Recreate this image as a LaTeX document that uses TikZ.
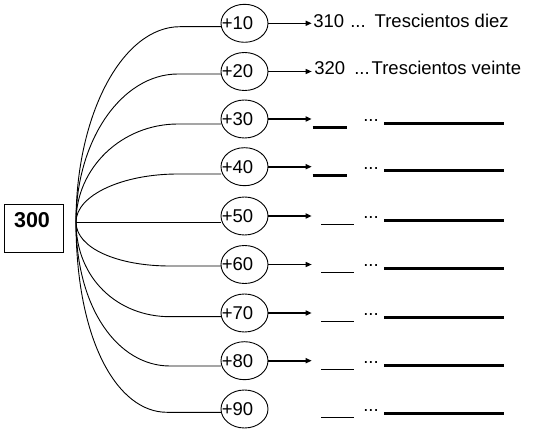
\documentclass[tikz,border=0pt]{standalone}
\usepackage{fontspec}
\setmainfont{Liberation Sans}
\usetikzlibrary{shapes.geometric,arrows.meta}
\begin{document}
\begin{tikzpicture}[x=1pt,y=1pt,
  ell/.style={draw,ellipse,minimum width=47pt,minimum height=38pt,inner sep=0pt,outer sep=0pt,line width=0.9pt},
  numbox/.style={draw,rectangle,minimum width=58.3pt,minimum height=48pt,inner sep=0pt,outer sep=0pt,line width=0.9pt},
  curve/.style={line width=0.9pt},
  arr/.style={-{Triangle[length=6pt,width=5pt]},line width=1.3pt},
  arrb/.style={arr,line width=2.1pt},
  longline/.style={line width=3pt},
  shortthick/.style={line width=2.7pt},
  shortthin/.style={line width=1pt},
  lbl/.style={font=\fontsize{18.5}{22}\selectfont},
  ]
\useasboundingbox (0,0) rectangle (535,431);

% start box
\node[numbox,label={[lbl,font=\fontsize{21.5}{24}\selectfont\bfseries,xshift=-1.85pt,yshift=7.5pt]center:300}] (b) at (33.85,203) {};

% ellipses
\foreach \k/\y/\t in {1/407.7/+10,2/359.5/+20,3/312/+30,4/264.3/+40,5/215/+50,6/166.5/+60,7/118/+70,8/70.3/+80,9/22/+90}{
  \node[ell,label={[lbl,inner sep=0pt,xshift=-7pt]center:\t}] (e\k) at (244.5,\y) {};
}

% fan of curves
\coordinate (o) at (76,209);
\coordinate (k1) at (180,404.3);
\coordinate (k2) at (178,357);
\coordinate (k3) at (178,307);
\coordinate (k4) at (178,257);
\coordinate (k6) at (170,165);
\coordinate (k7) at (170,114.3);
\coordinate (k8) at (170,65);
\coordinate (k9) at (167,18.7);
\draw[curve] (o) to[out=90,in=180,out distance=107.9pt,in distance=57.4pt] (k1) -- (e1.west |- k1);
\draw[curve] (o) to[out=90,in=180,out distance=81.7pt,in distance=56.3pt] (k2) -- (e2.west |- k2);
\draw[curve] (o) to[out=90,in=180,out distance=54.1pt,in distance=56.3pt] (k3) -- (e3.west |- k3);
\draw[curve] (o) to[out=90,in=180,out distance=26.5pt,in distance=56.3pt] (k4) -- (e4.west |- k4);
\draw[curve] (o) -- (e5.west |- o);
\draw[curve] (o) to[out=-90,in=180,out distance=26.4pt,in distance=52pt] (k6) -- (e6.west |- k6);
\draw[curve] (o) to[out=-90,in=180,out distance=56.8pt,in distance=52pt] (k7) -- (e7.west |- k7);
\draw[curve] (o) to[out=-90,in=180,out distance=86.4pt,in distance=52pt] (k8) -- (e8.west |- k8);
\draw[curve] (o) to[out=-90,in=180,out distance=118pt,in distance=50pt] (k9) -- (e9.west |- k9);

% arrows to the results
\foreach \k/\s in {1/arr,2/arr,3/arrb,4/arrb,5/arrb,6/arr,7/arrb,8/arrb}{
  \coordinate (t\k) at (311.7,0 |- e\k);
  \draw[\s] (e\k.east) -- (t\k);
}

% written results
\node[lbl,anchor=base west,inner sep=0pt] (r1) at (313.2,403.7) {310\hspace{6pt}...\hspace{9pt}Trescientos diez};
\node[lbl,anchor=base west,inner sep=0pt] (r2) at (314.2,356) {320\hspace{9pt}...\hspace{2pt}Trescientos veinte};

% blanks to fill in
\foreach \k/\y in {3/312,4/264.3,5/215,6/166.5,7/118,8/70.3,9/22}{
  \node[lbl,inner sep=0pt] (d\k) at (371,\y-1.5) {...};
  \draw[longline] (384,\y-4.3) -- (504,\y-4.3);
}
\foreach \y in {312,264.3}{
  \draw[shortthick] (312.7,\y-8.5) -- (346.7,\y-8.5);
}
\foreach \y in {215,166.5,118,70.3,22}{
  \draw[shortthin] (321,\y-8.5) -- (354,\y-8.5);
}
\end{tikzpicture}
\end{document}
